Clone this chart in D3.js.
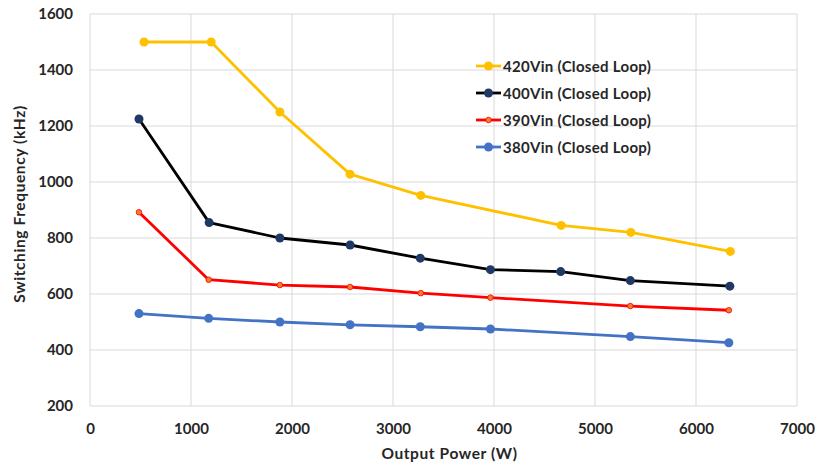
<!DOCTYPE html>
<html>
<head>
<meta charset="utf-8">
<script src="https://cdn.jsdelivr.net/npm/d3@7"></script>
<style>
  body { margin: 0; background: #fff; }
  text { font-family: Lato, "Open Sans", sans-serif; font-weight: bold; fill: #262626; }
</style>
</head>
<body>
<svg id="chart" width="817" height="465"></svg>
<script>
// values (x = output power W, y = switching frequency kHz)
const power420 = [535, 1200, 1880, 2575, 3275, 4665, 5355, 6340];
const freq420 = [1500, 1500, 1250, 1028, 952, 845, 820, 752];
const power400 = [485, 1180, 1880, 2575, 3270, 3965, 4660, 5350, 6335];
const freq400 = [1225, 855, 800, 775, 728, 687, 680, 648, 628];
const power390 = [485, 1175, 1880, 2575, 3275, 3965, 5350, 6325];
const freq390 = [892, 651, 632, 625, 603, 587, 557, 542];
const power380 = [485, 1175, 1880, 2575, 3270, 3965, 5350, 6325];
const freq380 = [530, 513, 500, 490, 483, 475, 448, 426];

const xTicks = [0, 1000, 2000, 3000, 4000, 5000, 6000, 7000];
const yTicks = [200, 400, 600, 800, 1000, 1200, 1400, 1600];

const seriesNames = ["420Vin (Closed Loop)", "400Vin (Closed Loop)", "390Vin (Closed Loop)", "380Vin (Closed Loop)"];

function zip(xs, ys) {
  return xs.map(function(x, i) { return { x: x, y: ys[i] }; });
}

const series = [
  { name: seriesNames[0], pts: zip(power420, freq420), line: "#FFC000", fill: "#FFC000", r: 4.5 },
  { name: seriesNames[1], pts: zip(power400, freq400), line: "#000000", fill: "#1F3864", r: 4.5 },
  { name: seriesNames[2], pts: zip(power390, freq390), line: "#FF0000", fill: "#ED7D31", r: 2.8 },
  { name: seriesNames[3], pts: zip(power380, freq380), line: "#4472C4", fill: "#4472C4", r: 4.5 }
];

const svg = d3.select("#chart");
const plotL = 90, plotR = 797, plotT = 14, plotB = 406;

const x = d3.scaleLinear().domain([0, 7000]).range([plotL, plotR]);
const y = d3.scaleLinear().domain([200, 1600]).range([plotB, plotT]);

// grid
svg.append("g")
  .selectAll("line")
  .data(yTicks)
  .enter().append("line")
  .attr("x1", plotL).attr("x2", plotR)
  .attr("y1", d => y(d)).attr("y2", d => y(d))
  .attr("stroke", "#d9d9d9").attr("stroke-width", 1);

svg.append("g")
  .selectAll("line")
  .data(xTicks)
  .enter().append("line")
  .attr("y1", plotT).attr("y2", plotB)
  .attr("x1", d => x(d)).attr("x2", d => x(d))
  .attr("stroke", "#d9d9d9").attr("stroke-width", 1);

// axes (labels only, lines drawn by grid)
const xAxis = svg.append("g")
  .attr("transform", "translate(0," + plotB + ")")
  .call(d3.axisBottom(x).tickValues(xTicks).tickSize(0).tickPadding(17).tickFormat(d3.format("d")));
xAxis.select(".domain").remove();
xAxis.selectAll("text").style("font-size", "15px").attr("font-family", null);

const yAxis = svg.append("g")
  .attr("transform", "translate(" + plotL + ",0)")
  .call(d3.axisLeft(y).tickValues(yTicks).tickSize(0).tickPadding(17).tickFormat(d3.format("d")));
yAxis.select(".domain").remove();
yAxis.selectAll("text").style("font-size", "15px").attr("font-family", null);
svg.selectAll(".tick text").attr("fill", null);

// axis titles
svg.append("text")
  .attr("x", (plotL + plotR) / 2 + 6).attr("y", 459)
  .attr("text-anchor", "middle")
  .style("font-size", "15.5px")
  .style("letter-spacing", "0.6px")
  .text("Output Power (W)");

svg.append("text")
  .attr("transform", "translate(25,204) rotate(-90)")
  .attr("text-anchor", "middle")
  .style("font-size", "15.5px")
  .style("letter-spacing", "0.6px")
  .text("Switching Frequency (kHz)");

// lines + markers
const lineGen = d3.line().x(d => x(d.x)).y(d => y(d.y));

series.forEach(function(s) {
  svg.append("path")
    .datum(s.pts)
    .attr("d", lineGen)
    .attr("fill", "none")
    .attr("stroke", s.line)
    .attr("stroke-width", 2.8)
    .attr("stroke-linejoin", "round");
  svg.append("g")
    .selectAll("circle")
    .data(s.pts)
    .enter().append("circle")
    .attr("cx", d => x(d.x))
    .attr("cy", d => y(d.y))
    .attr("r", s.r)
    .attr("fill", s.fill)
    .attr("stroke", s.r < 4 ? s.line : s.fill)
    .attr("stroke-width", s.r < 4 ? 0.8 : 0);
});

// legend
const legend = svg.append("g").attr("transform", "translate(476,66)");
series.forEach(function(s, i) {
  const g = legend.append("g").attr("transform", "translate(0," + i * 27 + ")");
  g.append("line").attr("x1", 0).attr("x2", 25).attr("y1", 0).attr("y2", 0)
    .attr("stroke", s.line).attr("stroke-width", 2.8);
  g.append("circle").attr("cx", 12.5).attr("cy", 0).attr("r", s.r)
    .attr("fill", s.fill)
    .attr("stroke", s.r < 4 ? s.line : s.fill)
    .attr("stroke-width", s.r < 4 ? 0.8 : 0);
  g.append("text").attr("x", 27).attr("y", 5.5)
    .style("font-size", "15px")
    .style("letter-spacing", "0.3px")
    .text(s.name);
});
</script>
</body>
</html>
